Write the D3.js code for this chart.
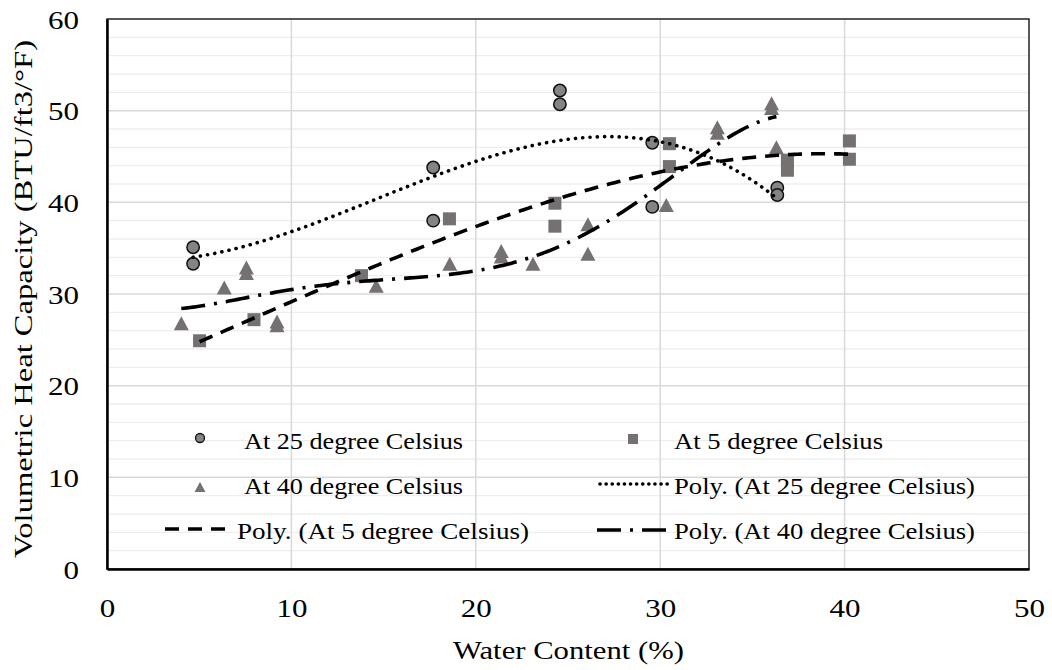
<!DOCTYPE html>
<html>
<head>
<meta charset="utf-8">
<script src="https://cdn.jsdelivr.net/npm/d3@7"></script>
<style>
  html, body { margin: 0; padding: 0; background: #fff; }
  svg { display: block; font-family: "Liberation Serif", "Times New Roman", serif; }
</style>
</head>
<body>
<svg id="chart" width="1052" height="670"></svg>
<script>
// Measured samples: water content (%) and volumetric heat capacity (BTU/ft3/°F)
const waterContent25 = [4.67, 4.67, 17.69, 17.69, 24.56, 24.56, 29.57, 29.57, 36.35, 36.35];
const heatCap25      = [35.1, 33.3, 43.8, 38.0, 52.2, 50.7, 46.5, 39.5, 41.6, 40.8];

const waterContent5  = [5.02, 7.97, 13.8, 18.57, 24.29, 24.29, 30.5, 30.5, 36.9, 36.9, 40.26, 40.26];
const heatCap5       = [24.9, 27.2, 32.0, 38.2, 39.9, 37.4, 46.4, 43.9, 44.6, 43.5, 46.7, 44.7];

const waterContent40 = [4.03, 6.36, 7.56, 7.56, 9.22, 9.22, 14.6, 18.59, 21.38, 21.38, 23.1, 26.08, 26.08, 30.33, 33.1, 33.1, 36.04, 36.04, 36.3];
const heatCap40      = [26.8, 30.7, 32.3, 32.9, 26.6, 27.0, 30.9, 33.3, 34.1, 34.7, 33.3, 37.6, 34.4, 39.7, 47.6, 48.2, 50.3, 50.8, 46.0];

// Polynomial order of each trendline
const trendOrders = [3, 3, 5];   // 25 °C, 5 °C, 40 °C

const xTicks = [0, 10, 20, 30, 40, 50];
const yTicks = [0, 10, 20, 30, 40, 50, 60];
const yMinorTicks = d3.range(0, 61, 2);

const legendLabels = [
  "At 25 degree Celsius", "At 5 degree Celsius",
  "At 40 degree Celsius", "Poly. (At 25 degree Celsius)",
  "Poly. (At 5 degree Celsius)", "Poly. (At 40 degree Celsius)"
];

const xTitle = "Water Content  (%)";
const yTitle = "Volumetric  Heat Capacity (BTU/ft3/°F)";

// ---- layout ----
const svg = d3.select("#chart");
const plot = { left: 107, top: 19, right: 1029, bottom: 569 };

const x = d3.scaleLinear().domain([0, 50]).range([plot.left, plot.right]);
const y = d3.scaleLinear().domain([0, 60]).range([plot.bottom, plot.top]);

const markerGray = "#767171";
const circleGray = "#848484";

// ---- gridlines ----
const grid = svg.append("g");
grid.selectAll("line.minor").data(yMinorTicks.filter(v => v % 10 !== 0)).join("line")
  .attr("x1", plot.left).attr("x2", plot.right)
  .attr("y1", d => y(d)).attr("y2", d => y(d))
  .attr("stroke", "#eeeeee").attr("stroke-width", 1.3);
grid.selectAll("line.hmajor").data(yTicks.slice(1, -1)).join("line")
  .attr("x1", plot.left).attr("x2", plot.right)
  .attr("y1", d => y(d)).attr("y2", d => y(d))
  .attr("stroke", "#d9d9d9").attr("stroke-width", 1.5);
grid.selectAll("line.vmajor").data(xTicks.slice(1, -1)).join("line")
  .attr("y1", plot.top).attr("y2", plot.bottom)
  .attr("x1", d => x(d)).attr("x2", d => x(d))
  .attr("stroke", "#d9d9d9").attr("stroke-width", 1.5);

// ---- frame ----
svg.append("rect")
  .attr("x", plot.left).attr("y", plot.top)
  .attr("width", plot.right - plot.left).attr("height", plot.bottom - plot.top)
  .attr("fill", "none").attr("stroke", "#222").attr("stroke-width", 1.5);

// ---- axes ----
const xAxis = d3.axisBottom(x).tickValues(xTicks).tickSize(0).tickPadding(0);
const yAxis = d3.axisLeft(y).tickValues(yTicks).tickSize(0).tickPadding(0);

const gx = svg.append("g").attr("transform", `translate(0,${plot.bottom})`).call(xAxis);
gx.select(".domain").attr("stroke", "#000").attr("stroke-width", 2.5);
gx.selectAll("text")
  .attr("dy", null).attr("y", 48)
  .attr("font-size", 25).attr("fill", "#000")
  .attr("font-family", "Liberation Serif")
  .attr("textLength", d => String(d).length * 15.5)
  .attr("lengthAdjust", "spacingAndGlyphs");

const gy = svg.append("g").attr("transform", `translate(${plot.left},0)`).call(yAxis);
gy.select(".domain").attr("stroke", "#000").attr("stroke-width", 2.5);
gy.selectAll("text")
  .attr("x", -28).attr("dy", "0.36em")
  .attr("font-size", 25).attr("fill", "#000")
  .attr("font-family", "Liberation Serif")
  .attr("textLength", d => String(d).length * 15.5)
  .attr("lengthAdjust", "spacingAndGlyphs");

// ---- axis titles ----
svg.append("text")
  .attr("x", (453 + 684) / 2).attr("y", 659)
  .attr("text-anchor", "middle").attr("font-size", 26)
  .attr("textLength", 231).attr("lengthAdjust", "spacingAndGlyphs")
  .text(xTitle);

svg.append("text")
  .attr("transform", `translate(32,${(40 + 558) / 2}) rotate(-90)`)
  .attr("text-anchor", "middle").attr("font-size", 26)
  .attr("textLength", 518).attr("lengthAdjust", "spacingAndGlyphs")
  .text(yTitle);

// ---- least-squares polynomial trendlines ----
function polyFit(xs, ys, order) {
  const m = d3.mean(xs), s = d3.deviation(xs);
  const n = order + 1;
  const A = Array.from({ length: n }, () => new Array(n + 1).fill(0));
  xs.forEach((xv0, k) => {
    const xv = (xv0 - m) / s;
    for (let i = 0; i < n; i++) {
      for (let j = 0; j < n; j++) A[i][j] += Math.pow(xv, i + j);
      A[i][n] += ys[k] * Math.pow(xv, i);
    }
  });
  for (let c = 0; c < n; c++) {
    let p = c;
    for (let r = c + 1; r < n; r++) if (Math.abs(A[r][c]) > Math.abs(A[p][c])) p = r;
    [A[c], A[p]] = [A[p], A[c]];
    for (let r = 0; r < n; r++) {
      if (r === c) continue;
      const f = A[r][c] / A[c][c];
      for (let k = c; k <= n; k++) A[r][k] -= f * A[c][k];
    }
  }
  const coef = A.map((row, i) => row[n] / row[i]);
  return xv0 => {
    const xv = (xv0 - m) / s;
    return coef.reduce((t, a, i) => t + a * Math.pow(xv, i), 0);
  };
}

function trendPoints(xs, ys, order) {
  const f = polyFit(xs, ys, order);
  const [lo, hi] = d3.extent(xs);
  return d3.range(0, 201).map(i => {
    const xv = lo + (hi - lo) * i / 200;
    return [xv, f(xv)];
  });
}

const line = d3.line().x(d => x(d[0])).y(d => y(d[1]));

const trendStyles = {
  dotted:  { dash: "0.1 7.2",  cap: "round", width: 3.6 },
  dashed:  { dash: "14 9",     cap: "butt",  width: 3.6 },
  dashdot: { dash: "24 9 3 9", cap: "butt",  width: 3.6 }
};

function drawTrend(xs, ys, order, style) {
  svg.append("path")
    .attr("d", line(trendPoints(xs, ys, order)))
    .attr("fill", "none").attr("stroke", "#000")
    .attr("stroke-width", style.width)
    .attr("stroke-linecap", style.cap)
    .attr("stroke-dasharray", style.dash);
}

// ---- markers ----
function trianglePath(w, h) {
  return `M0,${-h / 2}L${w / 2},${h / 2}L${-w / 2},${h / 2}Z`;
}

function drawCircles(g, xs, ys, r) {
  g.selectAll("circle").data(xs.map((v, i) => [v, ys[i]])).join("circle")
    .attr("cx", d => x(d[0])).attr("cy", d => y(d[1])).attr("r", r)
    .attr("fill", circleGray).attr("stroke", "#111").attr("stroke-width", 1.5);
}
function drawSquares(g, xs, ys, s) {
  g.selectAll("rect").data(xs.map((v, i) => [v, ys[i]])).join("rect")
    .attr("x", d => x(d[0]) - s / 2).attr("y", d => y(d[1]) - s / 2)
    .attr("width", s).attr("height", s).attr("fill", markerGray);
}
function drawTriangles(g, xs, ys, w, h) {
  g.selectAll("path").data(xs.map((v, i) => [v, ys[i]])).join("path")
    .attr("d", trianglePath(w, h))
    .attr("transform", d => `translate(${x(d[0])},${y(d[1])})`)
    .attr("fill", markerGray);
}

drawCircles(svg.append("g"), waterContent25, heatCap25, 6.2);
drawSquares(svg.append("g"), waterContent5, heatCap5, 13);
drawTriangles(svg.append("g"), waterContent40, heatCap40, 15, 14);

drawTrend(waterContent25, heatCap25, trendOrders[0], trendStyles.dotted);
drawTrend(waterContent5, heatCap5, trendOrders[1], trendStyles.dashed);
drawTrend(waterContent40, heatCap40, trendOrders[2], trendStyles.dashdot);

// ---- legend ----
const legend = svg.append("g").attr("font-size", 24);
const legendRows = [
  { label: legendLabels[0], tx: 244, ty: 449, len: 219, kind: "circle",   mx: 200, my: 438 },
  { label: legendLabels[1], tx: 674, ty: 449, len: 209, kind: "square",   mx: 633, my: 439 },
  { label: legendLabels[2], tx: 244, ty: 494, len: 219, kind: "triangle", mx: 200, my: 487 },
  { label: legendLabels[3], tx: 674, ty: 494, len: 301, kind: "dotted",   mx: 600, my: 484 },
  { label: legendLabels[4], tx: 237, ty: 539, len: 292, kind: "dashed",   mx: 165, my: 529 },
  { label: legendLabels[5], tx: 674, ty: 539, len: 301, kind: "dashdot",  mx: 597, my: 530 }
];

legendRows.forEach(r => {
  legend.append("text")
    .attr("x", r.tx).attr("y", r.ty)
    .attr("textLength", r.len).attr("lengthAdjust", "spacingAndGlyphs")
    .text(r.label);
  if (r.kind === "circle") {
    legend.append("circle").attr("cx", r.mx).attr("cy", r.my).attr("r", 4.5)
      .attr("fill", circleGray).attr("stroke", "#111").attr("stroke-width", 1.3);
  } else if (r.kind === "square") {
    legend.append("rect").attr("x", r.mx - 5).attr("y", r.my - 5)
      .attr("width", 10).attr("height", 10).attr("fill", markerGray);
  } else if (r.kind === "triangle") {
    legend.append("path").attr("d", trianglePath(11, 10))
      .attr("transform", `translate(${r.mx},${r.my})`).attr("fill", markerGray);
  } else {
    const st = trendStyles[r.kind];
    legend.append("line")
      .attr("x1", r.mx).attr("x2", r.tx - 3)
      .attr("y1", r.my).attr("y2", r.my)
      .attr("stroke", "#000").attr("stroke-width", st.width)
      .attr("stroke-linecap", st.cap)
      .attr("stroke-dasharray", r.kind === "dotted" ? "0.1 6" : st.dash);
  }
});
</script>
</body>
</html>
